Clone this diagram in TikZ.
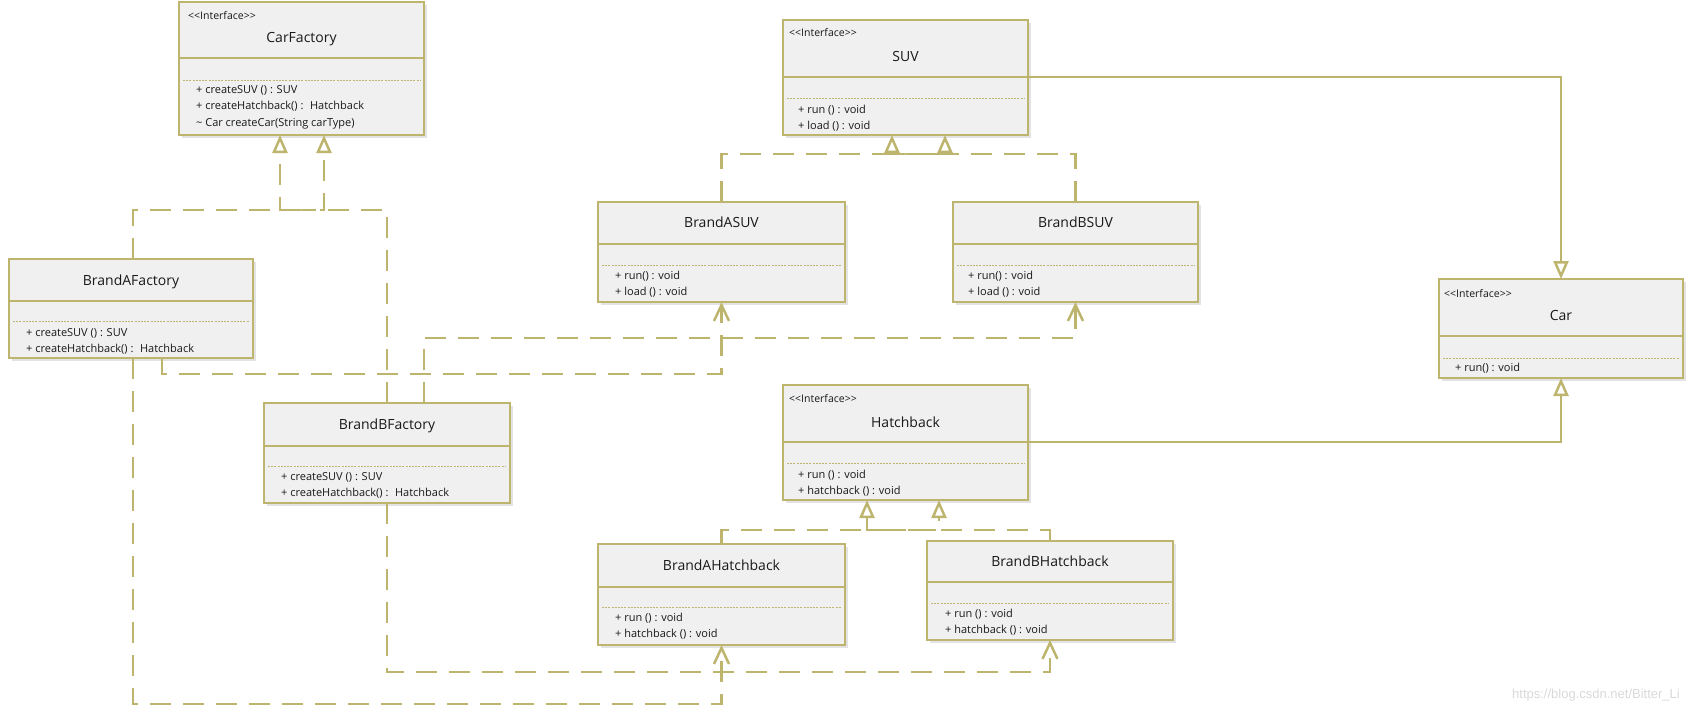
\documentclass[tikz,border=0pt]{standalone}
\usepackage{fontspec}
\setmainfont{Open Sans}
\newfontfamily\wmfont{Liberation Sans}
\usetikzlibrary{arrows.meta, shadows}
\definecolor{umlline}{RGB}{189,181,110}
\definecolor{umlfill}{RGB}{240,240,240}
\definecolor{umltext}{RGB}{25,25,25}

\begin{document}
\begin{tikzpicture}[
    x=1pt, y=-1pt,
    cls/.style={draw=umlline, line width=2pt, fill=umlfill, anchor=north west, outer sep=0pt, inner sep=0pt,
        drop shadow={shadow xshift=2.5pt, shadow yshift=-2.5pt, opacity=0.22}},
    divline/.style={draw=umlline, line width=2pt},
    sepline/.style={draw=umlline, line width=0.8pt, dash pattern=on 2pt off 1.2pt},
    stereo/.style={font=\fontsize{10.5}{12}\selectfont, text=umltext, anchor=base west, inner sep=0pt},
    title/.style={font=\fontsize{14}{16}\selectfont, text=umltext, anchor=base, inner sep=0pt},
    ops/.style={font=\fontsize{11}{16.5}\selectfont, text=umltext, anchor=base west, inner sep=0pt, align=left},
    realize/.style={draw=umlline, line width=2.5pt, dash pattern=on 21pt off 12pt, -{Triangle[open, length=18pt, width=15pt]}},
    generalize/.style={draw=umlline, line width=2.5pt, -{Triangle[open, length=18pt, width=15pt]}},
    depend/.style={draw=umlline, line width=2.5pt, dash pattern=on 21pt off 12pt, -{Straight Barb[length=16pt, width=15pt]}},
    watermark/.style={font=\wmfont\fontsize{13}{15}\selectfont, text=black!15, anchor=base east, inner sep=0pt}
    ]
    \useasboundingbox (0,0) rectangle (1690,713);

    % Boxes
    \node[cls, minimum width=245, minimum height=133] (cf) at (179,2) {};
    \node[cls, minimum width=244, minimum height=99] (baf) at (9,259) {};
    \node[cls, minimum width=246, minimum height=100] (bbf) at (264,403) {};
    \node[cls, minimum width=245, minimum height=115] (suv) at (783,20) {};
    \node[cls, minimum width=247, minimum height=100] (bas) at (598,202) {};
    \node[cls, minimum width=245, minimum height=100] (bbs) at (953,202) {};
    \node[cls, minimum width=245, minimum height=115] (hb) at (783,385) {};
    \node[cls, minimum width=247, minimum height=101] (bah) at (598,544) {};
    \node[cls, minimum width=246, minimum height=99] (bbh) at (927,541) {};
    \node[cls, minimum width=244, minimum height=99] (car) at (1439,279) {};

    % Compartment lines
    \foreach \n/\d/\s in {cf/58/80, baf/301/321, bbf/446/466, suv/77/98, bas/244/265,
                          bbs/244/265, hb/442/463, bah/587/607, bbh/582/603, car/336/358} {
        \draw[divline] (\n.west |- 0,\d) -- (\n.east |- 0,\d);
        \draw[sepline] ([xshift=4pt]\n.west |- 0,\s) -- ([xshift=-4pt]\n.east |- 0,\s);
    }

    % CarFactory (ops nodes sit on the baseline of their last line)
    \node[stereo] (cf-st) at (188,19) {<{}<Interface>{}>};
    \node[title] (cf-t) at (301.5,42) {CarFactory};
    \node[ops] (cf-op) at (196,126) {+ createSUV () : SUV\\+ createHatchback() :~ Hatchback\\\textasciitilde{} Car createCar(String carType)};

    % Factories
    \node[title] (baf-t) at (131,285) {BrandAFactory};
    \node[ops] (baf-op) at (26,352.5) {+ createSUV () : SUV\\+ createHatchback() :~ Hatchback};
    \node[title] (bbf-t) at (387,429) {BrandBFactory};
    \node[ops] (bbf-op) at (281,496.5) {+ createSUV () : SUV\\+ createHatchback() :~ Hatchback};

    % SUV
    \node[stereo] (suv-st) at (789,36) {<{}<Interface>{}>};
    \node[title] (suv-t) at (905.5,61) {SUV};
    \node[ops] (suv-op) at (798,129.5) {+ run () : void\\+ load () : void};
    \node[title] (bas-t) at (721.5,227) {BrandASUV};
    \node[ops] (bas-op) at (615,295.5) {+ run() : void\\+ load () : void};
    \node[title] (bbs-t) at (1075.5,227) {BrandBSUV};
    \node[ops] (bbs-op) at (968,295.5) {+ run() : void\\+ load () : void};

    % Hatchback
    \node[stereo] (hb-st) at (789,402) {<{}<Interface>{}>};
    \node[title] (hb-t) at (905.5,427) {Hatchback};
    \node[ops] (hb-op) at (798,494.5) {+ run () : void\\+ hatchback () : void};
    \node[title] (bah-t) at (721.5,570) {BrandAHatchback};
    \node[ops] (bah-op) at (615,637.5) {+ run () : void\\+ hatchback () : void};
    \node[title] (bbh-t) at (1050,566) {BrandBHatchback};
    \node[ops] (bbh-op) at (945,633.5) {+ run () : void\\+ hatchback () : void};

    % Car
    \node[stereo] (car-st) at (1444,297) {<{}<Interface>{}>};
    \node[title] (car-t) at (1561,320) {Car};
    \node[ops] (car-op) at (1455,371) {+ run() : void};

    % Realizations
    \draw[realize] (baf.north -| 133,0) |- (cf.south |- 0,210) -| (cf.south -| 280,0);
    \draw[realize] (bbf.north -| 387,0) |- (cf.south |- 0,210) -| (cf.south -| 324,0);
    \draw[realize] (bas.north) |- (suv.south |- 0,154) -| (suv.south -| 892,0);
    \draw[realize] (bbs.north) |- (suv.south |- 0,154) -| (suv.south -| 945,0);
    \draw[realize] (bah.north) |- (hb.south |- 0,530) -| (hb.south -| 867,0);
    \draw[realize] (bbh.north) |- (hb.south |- 0,530) -| (hb.south -| 939,0);

    % Interfaces to Car
    \draw[generalize] (suv.east |- 0,77) -| (car.north);
    \draw[generalize] (hb.east |- 0,442) -| (car.south);

    % Dependencies
    \draw[depend] (baf.south -| 162,0) |- (bas.south |- 0,374) -- (bas.south);
    \draw[depend] (baf.south -| 133,0) |- (bah.south |- 0,704) -- (bah.south);
    \draw[depend] (bbf.north -| 424,0) |- (bbs.south |- 0,338) -- (bbs.south);
    \draw[depend] (bbf.south -| 387,0) |- (bbh.south |- 0,672) -- (bbh.south);

    \node[watermark] (wm) at (1680,698) {https://blog.csdn.net/Bitter\_Li};

\end{tikzpicture}
\end{document}
